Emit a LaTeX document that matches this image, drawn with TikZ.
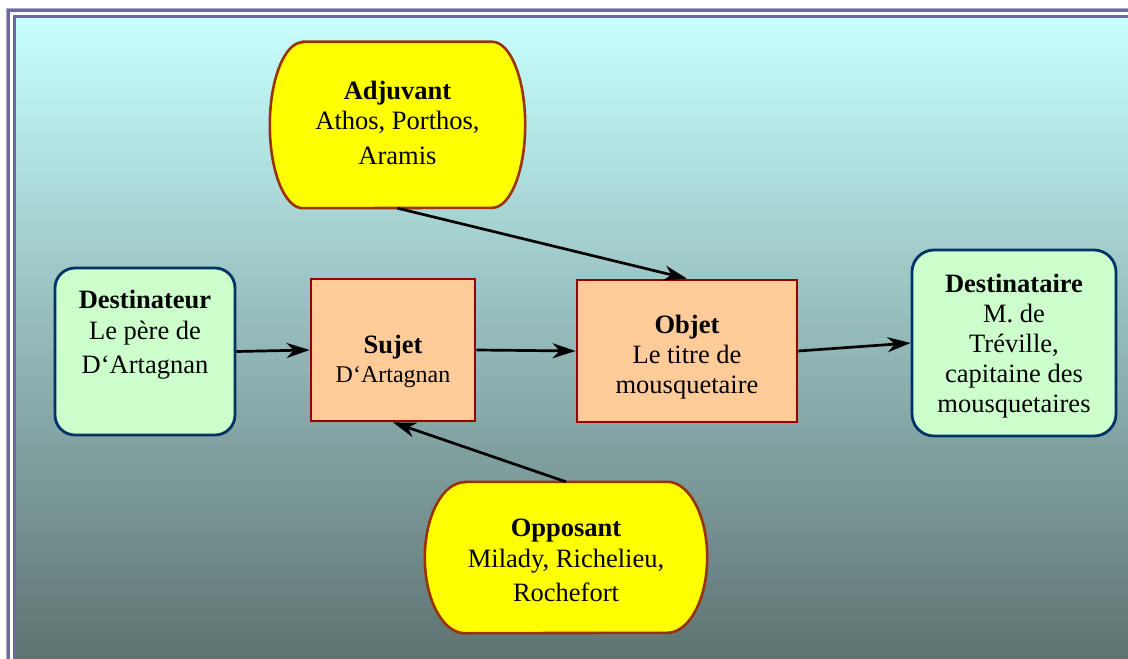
\documentclass[tikz,border=0pt]{standalone}
\usepackage{fontspec}
\setmainfont{Liberation Serif}
\usetikzlibrary{arrows.meta}

\definecolor{framec}{HTML}{6B6B9F}
\definecolor{framelt}{HTML}{A8A8CC}
\definecolor{skytop}{HTML}{C8FFFF}
\definecolor{skymid}{HTML}{A0C8C8}
\definecolor{skybot}{HTML}{5E7372}
\definecolor{mintfill}{HTML}{CCFFCC}
\definecolor{navyline}{HTML}{003366}
\definecolor{peachfill}{HTML}{FFCC99}
\definecolor{redline}{HTML}{990000}
\definecolor{sunfill}{HTML}{FFFF00}
\definecolor{rustline}{HTML}{993300}

\tikzset{
  roleframe/.style={draw=navyline, fill=mintfill, line width=2.8bp,
    rounded corners=20bp, inner sep=0pt},
  actantbox/.style={draw=redline, fill=peachfill, line width=2.8bp, inner sep=0pt},
  capsulebox/.style={inner sep=0pt},
  capsule/.style={draw=rustline, fill=sunfill, line width=2.6bp},
  caption/.style={align=center, inner sep=0pt,
    font=\fontsize{26.5bp}{30bp}\selectfont},
  flow/.style={line width=2.7bp, -{Stealth[length=23bp,width=15bp,inset=7bp]}},
}

\begin{document}
\begin{tikzpicture}[x=1bp,y=1bp]
  % canvas and shaded panel
  \useasboundingbox (0,0) rectangle (1128,-659);
  \fill[white] (0,0) rectangle (1128,-659);
  \shade[top color=skytop, middle color=skymid, bottom color=skybot]
    (16,-19) rectangle (1128,-659);

  % double frame
  \draw[framelt, line width=1bp] (6.5,-659) -- (6.5,-8.5) -- (1128,-8.5);
  \draw[framec, line width=3bp] (8.5,-659) -- (8.5,-10.5) -- (1128,-10.5);
  \draw[framec, line width=3.5bp] (14.5,-659) -- (14.5,-16.75) -- (1128,-16.75);

  % boxes
  \node[roleframe, minimum width=180bp, minimum height=167bp] (dtr) at (145,-351.5) {};
  \node[actantbox, minimum width=164bp, minimum height=142bp] (suj) at (393,-350) {};
  \node[actantbox, minimum width=220bp, minimum height=142bp] (obj) at (687,-351) {};
  \node[roleframe, rounded corners=22bp, minimum width=204bp, minimum height=186bp] (dta) at (1014,-343) {};
  \node[capsulebox, minimum width=255bp, minimum height=166bp] (adj) at (397.5,-125) {};
  \node[capsulebox, minimum width=282bp, minimum height=151bp] (opp) at (566,-557.5) {};

  % capsule outlines for helper and opponent
  \draw[capsule] ([xshift=33bp]adj.north west) -- ([xshift=-33bp]adj.north east)
    arc[start angle=90, end angle=-90, x radius=33bp, y radius=83bp]
    -- ([xshift=33bp]adj.south west)
    arc[start angle=270, end angle=90, x radius=33bp, y radius=83bp] -- cycle;
  \draw[capsule] ([xshift=40bp]opp.north west) -- ([xshift=-40bp]opp.north east)
    arc[start angle=90, end angle=-90, x radius=40bp, y radius=75.5bp]
    -- ([xshift=40bp]opp.south west)
    arc[start angle=270, end angle=90, x radius=40bp, y radius=75.5bp] -- cycle;

  % captions
  \node[caption] (dtr-t) at ([yshift=16.5bp]dtr.center)
    {\textbf{Destinateur}\\[1bp]Le père de\\[4bp]D‘Artagnan};
  \node[caption] (suj-t) at ([yshift=-11bp]suj.center)
    {\textbf{Sujet}\\[-1bp]{\fontsize{24bp}{28bp}\selectfont D‘Artagnan}};
  \node[caption] (obj-t) at ([yshift=-6bp]obj.center)
    {\textbf{Objet}\\Le titre de\\mousquetaire};
  \node[caption] (dta-t) at ([yshift=-3bp]dta.center)
    {\textbf{Destinataire}\\M. de\\Tréville,\\capitaine des\\mousquetaires};
  \node[caption] (adj-t) at ([yshift=2bp]adj.center)
    {\textbf{Adjuvant}\\Athos, Porthos,\\[5bp]Aramis};
  \node[caption] (opp-t) at ([yshift=-2.5bp]opp.center)
    {\textbf{Opposant}\\[1bp]Milady, Richelieu,\\[4bp]Rochefort};

  % connectors
  \draw[flow] (dtr.east) -- (suj.west);
  \draw[flow] (suj.east) -- (obj.west);
  \draw[flow] (obj.east) -- (dta.west);
  \draw[flow] (adj.south) -- (obj.north);
  \draw[flow] (opp.north) -- (suj.south);
\end{tikzpicture}
\end{document}
